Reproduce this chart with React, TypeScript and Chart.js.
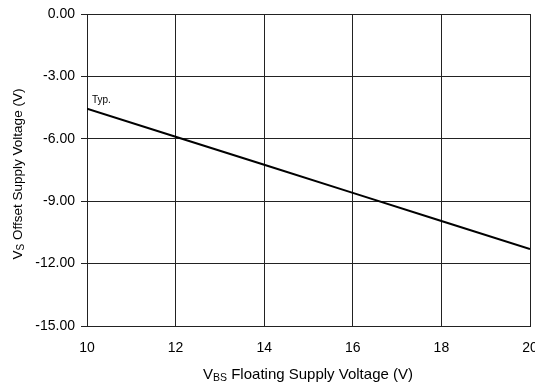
import React, { useEffect, useRef } from "react";
import { Chart, registerables } from "chart.js";

Chart.register(...registerables);

const vbs = [10, 12, 14, 16, 18, 20];
const vsTyp = [-4.55, -5.9, -7.25, -8.6, -9.95, -11.3];
const yTicks = [0, -3, -6, -9, -12, -15];
const xTicks = [10, 12, 14, 16, 18, 20];
const seriesLabel = "Typ.";

const FONT = "'Liberation Sans', Arial, sans-serif";

const textPlugin = {
  id: "customText",
  afterDraw(chart: any) {
    const ctx = chart.ctx;
    const xs = chart.scales.x;
    const ys = chart.scales.y;
    ctx.save();
    ctx.fillStyle = "#000";
    // Typ. label
    ctx.font = `10px ${FONT}`;
    ctx.textAlign = "left";
    ctx.textBaseline = "alphabetic";
    ctx.fillText(seriesLabel, xs.getPixelForValue(vbs[0]) + 5, ys.getPixelForValue(vsTyp[0]) - 6);

    const drawSub = (parts: [string, boolean][], cx: number, cy: number, size: number, subSize: number) => {
      let total = 0;
      const widths: number[] = [];
      for (const [t, sub] of parts) {
        ctx.font = `${sub ? subSize : size}px ${FONT}`;
        const w = ctx.measureText(t).width;
        widths.push(w);
        total += w;
      }
      let x = cx - total / 2;
      parts.forEach(([t, sub], i) => {
        ctx.font = `${sub ? subSize : size}px ${FONT}`;
        ctx.textAlign = "left";
        ctx.textBaseline = "alphabetic";
        ctx.fillText(t, x, cy + (sub ? 2 : 0));
        x += widths[i];
      });
    };
    drawSub([["V", false], ["BS", true], [" Floating Supply Voltage (V)", false]], 308, 379, 15, 10.5);

    ctx.translate(22, 174);
    ctx.rotate(-Math.PI / 2);
    drawSub([["V", false], ["S", true], [" Offset Supply Voltage (V)", false]], 0, 0, 13.5, 10);
    ctx.restore();
  },
};

export default function App() {
  const ref = useRef<HTMLCanvasElement | null>(null);
  useEffect(() => {
    document.body.style.margin = "0";
    const canvas = ref.current!;
    const chart = new Chart(canvas, {
      type: "line",
      data: {
        datasets: [
          {
            label: seriesLabel,
            data: vbs.map((x, i) => ({ x, y: vsTyp[i] })),
            borderColor: "#000",
            borderWidth: 2,
            pointRadius: 0,
            tension: 0,
          },
        ],
      },
      options: {
        responsive: false,
        animation: false,
        layout: { padding: { top: 14, right: 5, left: 0, bottom: 0 } },
        plugins: { legend: { display: false }, tooltip: { enabled: false } },
        scales: {
          x: {
            type: "linear",
            min: 10,
            max: 20,
            afterBuildTicks: (s: any) => {
              s.ticks = xTicks.map((v) => ({ value: v }));
            },
            afterFit: (s: any) => {
              s.height = 62;
              s.paddingLeft = 0;
              s.paddingRight = 0;
            },
            grid: { color: "#222", lineWidth: 1, drawTicks: false },
            border: { color: "#222", width: 1 },
            ticks: {
              color: "#000",
              font: { family: FONT, size: 14 },
              padding: 14,
              maxRotation: 0,
              autoSkip: false,
            },
          },
          y: {
            type: "linear",
            min: -15,
            max: 0,
            afterBuildTicks: (s: any) => {
              s.ticks = yTicks.map((v) => ({ value: v }));
            },
            afterFit: (s: any) => {
              s.width = 87;
              s.paddingTop = 0;
              s.paddingBottom = 0;
            },
            grid: { color: "#222", lineWidth: 1, drawTicks: true, tickLength: 6 },
            border: { color: "#222", width: 1 },
            ticks: {
              color: "#000",
              font: { family: FONT, size: 14 },
              padding: 6,
              autoSkip: false,
              callback: (v: any) => Number(v).toFixed(2),
            },
          },
        },
      },
      plugins: [textPlugin],
    } as any);
    return () => chart.destroy();
  }, []);
  return (
    <div style={{ position: "absolute", left: 0, top: 0, width: 535, height: 388, background: "#fff" }}>
      <canvas ref={ref} width={535} height={388} />
    </div>
  );
}
